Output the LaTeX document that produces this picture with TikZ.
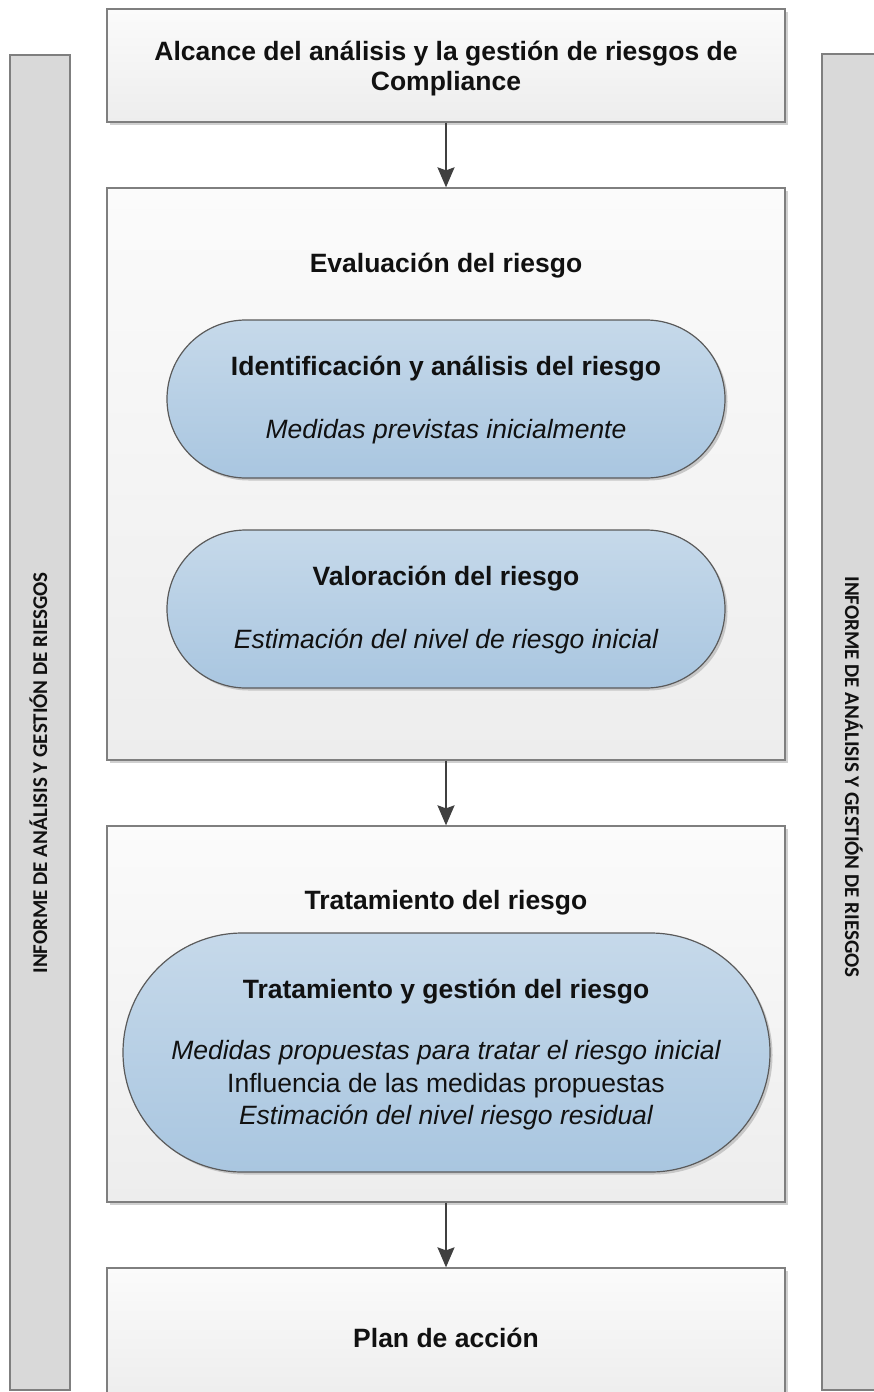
\documentclass[tikz,border=0pt]{standalone}
\usepackage{fontspec}
\setmainfont{Liberation Sans}
\newfontfamily\sidefont{Carlito}
\usetikzlibrary{shapes.misc,arrows.meta,shadows}
\definecolor{boxline}{HTML}{7F7F7F}
\definecolor{pillline}{HTML}{5A5A5A}
\definecolor{pilltop}{HTML}{C6D9EA}
\definecolor{pillbot}{HTML}{A9C6E0}
\definecolor{boxtop}{HTML}{FBFBFB}
\definecolor{boxbot}{HTML}{EDEDED}
\definecolor{barfill}{HTML}{D9D9D9}
\definecolor{arrowc}{HTML}{404040}
\definecolor{txt}{HTML}{111111}
\definecolor{shadowc}{HTML}{D0D0D0}
\tikzset{
  mainbox/.style={draw=boxline, line width=1.3pt, minimum width=678pt, inner sep=0pt, top color=boxtop, bottom color=boxbot},
  pill/.style={rounded rectangle, draw=pillline, line width=1.2pt, inner sep=0pt, top color=pilltop, bottom color=pillbot},
  sidebar/.style={draw=boxline, line width=1.3pt, fill=barfill, inner sep=0pt},
  shadowbox/.style={fill=shadowc, draw=none, inner sep=0pt},
  flow/.style={draw=arrowc, line width=2pt, -{Stealth[width=17pt,length=20pt,inset=3pt]}},
  tb/.style={anchor=base, text=txt, font=\fontsize{26.5}{30}\selectfont\bfseries, inner sep=0pt},
  ti/.style={anchor=base, text=txt, font=\fontsize{26.5}{30}\selectfont\itshape, inner sep=0pt},
  tn/.style={anchor=base, text=txt, font=\fontsize{26.5}{30}\selectfont, inner sep=0pt},
  sidetext/.style={anchor=base, text=txt, font=\fontsize{21}{24}\sidefont\bfseries, inner sep=0pt}
}
\begin{document}
\begin{tikzpicture}[x=1pt,y=-1pt]
\useasboundingbox (0,0) rectangle (873,1392);
% side bars
\node[sidebar, minimum width=60pt, minimum height=1335pt] (lbar) at (40,722.5) {};
\node[sidebar, minimum width=68pt, minimum height=1336pt] (rbar) at (856,722) {};
\node[sidetext, rotate=90] (ltext) at (47,773) {INFORME DE ANÁLISIS Y GESTIÓN DE RIESGOS};
\node[sidetext, rotate=-90] (rtext) at (845,777) {INFORME DE ANÁLISIS Y GESTIÓN DE RIESGOS};
% shadows
\node[shadowbox, minimum width=678pt, minimum height=113pt] (s1) at (449,68.5) {};
\node[shadowbox, minimum width=678pt, minimum height=572pt] (s2) at (449,477) {};
\node[shadowbox, minimum width=678pt, minimum height=376pt] (s3) at (449,1017) {};
\node[shadowbox, minimum width=678pt, minimum height=132pt] (s4) at (449,1337) {};
% main boxes
\node[mainbox, minimum height=113pt] (alc) at (446,65.5) {};
\node[mainbox, minimum height=572pt] (eval) at (446,474) {};
\node[mainbox, minimum height=376pt] (trat) at (446,1014) {};
\node[mainbox, minimum height=132pt] (plan) at (446,1334) {};
% pill shadows
\node[rounded rectangle, fill=black!22, inner sep=0pt, minimum width=558pt, minimum height=158pt] (ps1) at (448.5,401.5) {};
\node[rounded rectangle, fill=black!22, inner sep=0pt, minimum width=558pt, minimum height=158pt] (ps2) at (448.5,611.5) {};
\node[rounded rectangle, fill=black!22, inner sep=0pt, minimum width=647pt, minimum height=239pt] (ps3) at (449,1055) {};
% pills
\node[pill, minimum width=558pt, minimum height=158pt] (p1) at (446,399) {};
\node[pill, minimum width=558pt, minimum height=158pt] (p2) at (446,609) {};
\node[pill, minimum width=647pt, minimum height=239pt] (p3) at (446.5,1052.5) {};
% arrows
\draw[flow] (alc.south) -- (eval.north);
\draw[flow] (eval.south) -- (trat.north);
\draw[flow] (trat.south) -- (plan.north);
% texts
\node[tb] (t1) at (446,60) {Alcance del análisis y la gestión de riesgos de};
\node[tb] (t2) at (446,90) {Compliance};
\node[tb] (t3) at (446,272) {Evaluación del riesgo};
\node[tb] (t4) at (446,375) {Identificación y análisis del riesgo};
\node[ti] (t5) at (446,438) {Medidas previstas inicialmente};
\node[tb] (t6) at (446,585) {Valoración del riesgo};
\node[ti] (t7) at (446,648) {Estimación del nivel de riesgo inicial};
\node[tb] (t8) at (446,909) {Tratamiento del riesgo};
\node[tb] (t9) at (446,998) {Tratamiento y gestión del riesgo};
\node[ti] (t10) at (446,1059) {Medidas propuestas para tratar el riesgo inicial};
\node[tn] (t11) at (446,1092) {Influencia de las medidas propuestas};
\node[ti] (t12) at (446,1124) {Estimación del nivel riesgo residual};
\node[tb] (t13) at (446,1347) {Plan de acción};
\end{tikzpicture}
\end{document}
